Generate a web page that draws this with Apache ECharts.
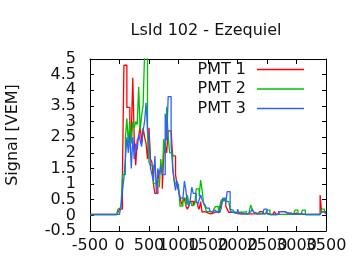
<!DOCTYPE html>
<html>
<head>
<meta charset="utf-8">
<script src="https://cdn.jsdelivr.net/npm/echarts@6/dist/echarts.min.js"></script>
<style>html,body{margin:0;padding:0;background:#fff}#c{width:360px;height:270px}</style>
</head>
<body>
<div id="c"></div>
<script>
// Histogram bins: start time (ns) and width (ns)
var binStart = -500;
var binWidth = 25;
var xTicks = [-500, 0, 500, 1000, 1500, 2000, 2500, 3000, 3500];
var yTicks = [-0.5, 0, 0.5, 1, 1.5, 2, 2.5, 3, 3.5, 4, 4.5, 5];
var seriesNames = ['PMT 1', 'PMT 2', 'PMT 3'];

var pmt1 = [
0.03,0.03,0.03,0.03,0.03,0.03,0.03,0.03,0.03,0.03,
0.03,0.03,0.03,0.03,0.03,0.03,0.03,0.03,0.05,0.1,
0.2,0.2,1.3,4.8,4.8,3.45,3.45,2.4,2.6,4.4,
2.4,1.6,2.4,2.5,2.9,2.3,2.8,2.5,2.3,1.8,
2.8,1.8,1.7,1.0,0.7,0.7,1.1,1.4,1.4,0.85,
1.9,2.25,2.0,2.7,2.7,2.7,1.9,1.9,1.3,0.97,
0.8,0.6,0.35,0.45,0.55,0.3,0.2,0.3,0.45,0.45,
0.3,0.45,0.4,0.3,0.2,0.44,0.1,0.12,0.1,0.08,
0.1,0.05,0.1,0.08,0.1,0.12,0.1,0.1,0.2,0.35,
0.5,0.5,0.3,0.2,0.1,0.1,0.08,0.1,0.05,0.06,
0.1,0.05,0.07,0.05,0.04,0.05,0.03,0.05,0.04,0.05,
0.08,0.05,0.05,0.05,0.05,0.12,0.12,0.08,0.05,0.07,
0.03,0.03,0.03,0.03,0.03,0.12,0.05,0.03,0.12,0.12,
0.12,0.12,0.07,0.07,0.07,0.07,0.05,0.05,0.05,0.07,
0.07,0.03,0.03,0.03,0.03,0.03,0.03,0.03,0.03,0.03,
0.03,0.03,0.03,0.03,0.03,0.03,0.65,0.12,0.1,0.05
];
var pmt2 = [
0.02,0.02,0.02,0.02,0.02,0.02,0.02,0.02,0.02,0.02,
0.02,0.02,0.02,0.02,0.02,0.02,0.02,0.02,0.05,0.2,
0.25,0.2,1.3,1.3,2.5,3.1,2.3,3.0,2.3,3.0,
2.8,3.0,2.9,4.1,2.7,3.2,3.5,5.2,5.2,2.6,
1.7,1.6,1.6,1.0,1.05,1.1,1.1,0.9,1.8,1.3,
2.45,2.0,3.47,2.5,2.0,2.0,1.5,1.15,1.0,1.0,
0.95,0.3,0.3,0.55,0.55,0.3,0.65,0.4,0.4,0.3,
0.35,0.4,0.85,0.85,0.6,1.13,0.81,0.38,0.28,0.12,
0.12,0.12,0.1,0.12,0.2,0.28,0.28,0.07,0.3,0.5,
0.45,0.55,0.45,0.45,0.4,0.2,0.17,0.17,0.07,0.07,
0.12,0.1,0.07,0.1,0.07,0.12,0.05,0.05,0.15,0.33,
0.17,0.1,0.08,0.05,0.07,0.05,0.05,0.03,0.05,0.05,
0.17,0.17,0.02,0.02,0.02,0.02,0.03,0.03,0.03,0.03,
0.03,0.03,0.03,0.03,0.03,0.03,0.03,0.03,0.03,0.17,
0.17,0.03,0.03,0.03,0.17,0.17,0.02,0.02,0.02,0.02,
0.02,0.02,0.02,0.02,0.02,0.02,0.03,0.2,0.2,0.1
];
var pmt3 = [
0.03,0.03,0.03,0.03,0.03,0.03,0.03,0.03,0.03,0.03,
0.03,0.03,0.03,0.03,0.03,0.03,0.03,0.03,0.03,0.03,
0.05,0.3,0.8,1.2,1.8,2.5,2.0,2.6,1.5,2.5,
1.8,2.3,2.1,2.6,2.4,2.2,2.7,3.0,3.6,2.7,
2.6,1.5,1.3,1.1,1.9,0.7,1.5,1.3,1.6,1.3,
1.3,3.25,2.4,3.8,3.8,2.2,1.6,1.1,0.8,1.1,
0.8,0.55,0.55,0.55,1.1,0.8,0.4,0.3,0.5,0.9,
0.7,0.7,0.45,0.35,0.5,0.65,0.5,0.4,0.33,0.23,
0.23,0.15,0.1,0.15,0.17,0.2,0.1,0.1,0.07,0.23,
0.55,0.55,0.38,0.76,0.76,0.17,0.1,0.1,0.07,0.1,
0.2,0.07,0.05,0.1,0.05,0.04,0.05,0.1,0.12,0.17,
0.2,0.1,0.05,0.1,0.04,0.05,0.05,0.05,0.2,0.2,
0.05,0.03,0.03,0.03,0.03,0.03,0.03,0.03,0.12,0.12,
0.12,0.12,0.07,0.07,0.07,0.07,0.03,0.03,0.03,0.03,
0.03,0.05,0.05,0.05,0.03,0.03,0.03,0.03,0.03,0.03,
0.03,0.03,0.03,0.03,0.03,0.03,0.03,0.1,0.12,0.12
];

function toSteps(vals) {
  var out = [];
  for (var i = 0; i < vals.length; i++) out.push([binStart + i * binWidth, vals[i]]);
  out.push([binStart + vals.length * binWidth, vals[vals.length - 1]]);
  return out;
}

var FONT = 'DejaVu Sans';
var FS = 16;
var colors = ['#ff0000', '#00c000', '#3060ff'];
var chart = echarts.init(document.getElementById('c'), null, {renderer: 'canvas'});

// Labels split over two overlaid axes (alternate ticks) so that crowded labels all stay visible
function altFormatter(list, parity) {
  return function (v) {
    var idx = list.indexOf(+v.toFixed(6));
    return (idx % 2 === parity) ? String(v) : '';
  };
}
function xAxisDef(pos, showLine, tickShow, label) {
  return {
    type: 'value', min: xTicks[0], max: xTicks[xTicks.length - 1], interval: 500, position: pos,
    axisLine: {show: showLine, onZero: false, lineStyle: {color: '#000', width: 1}},
    splitLine: {show: false},
    axisTick: {show: tickShow, inside: true, length: 5, lineStyle: {color: '#000'}},
    axisLabel: label ? Object.assign({fontFamily: FONT, fontSize: FS, color: '#111', margin: 7,
      showMinLabel: true, showMaxLabel: true, hideOverlap: false}, label) : {show: false}
  };
}
function yAxisDef(pos, showLine, tickShow, label) {
  return {
    type: 'value', min: yTicks[0], max: yTicks[yTicks.length - 1], interval: 0.5, position: pos,
    axisLine: {show: showLine, onZero: false, lineStyle: {color: '#000', width: 1}},
    splitLine: {show: false},
    axisTick: {show: tickShow, inside: true, length: 4, lineStyle: {color: '#000'}},
    axisLabel: label ? Object.assign({fontFamily: FONT, fontSize: FS, color: '#111', margin: 14,
      showMinLabel: true, showMaxLabel: true, hideOverlap: false}, label) : {show: false}
  };
}

chart.setOption({
  animation: false,
  backgroundColor: '#fff',
  title: {
    text: 'LsId 102 - Ezequiel',
    left: 201, top: 18, textAlign: 'center',
    textStyle: {fontFamily: FONT, fontSize: FS, fontWeight: 'normal', color: '#111'}
  },
  graphic: [{
    type: 'text', x: 13, y: 135, rotation: Math.PI / 2,
    style: {text: 'Signal [VEM]', fontFamily: FONT, fontSize: FS, fill: '#111', align: 'center', verticalAlign: 'middle'}
  }],
  legend: {
    data: seriesNames, orient: 'vertical', right: 51, top: 56, align: 'right',
    icon: 'rect', itemWidth: 47, itemHeight: 1.5, itemGap: 2.5,
    textStyle: {fontFamily: FONT, fontSize: FS, lineHeight: 17, color: '#111', padding: [0, 6, 0, 0]}
  },
  grid: {left: 90, right: 34, top: 59, bottom: 39},
  xAxis: [
    xAxisDef('bottom', true, true, {formatter: altFormatter(xTicks, 0)}),
    xAxisDef('bottom', false, false, {formatter: altFormatter(xTicks, 1)}),
    xAxisDef('top', true, true, null)
  ],
  yAxis: [
    yAxisDef('left', true, true, {formatter: altFormatter(yTicks, 0)}),
    yAxisDef('left', false, false, {formatter: altFormatter(yTicks, 1)}),
    yAxisDef('right', true, true, null)
  ],
  series: [pmt1, pmt2, pmt3].map(function (vals, k) {
    return {
      name: seriesNames[k], type: 'line', step: 'end', data: toSteps(vals),
      xAxisIndex: 0, yAxisIndex: 0,
      symbol: 'none', clip: true, color: colors[k],
      lineStyle: {color: colors[k], width: 1.3}, z: 2 + k
    };
  })
});
</script>
</body>
</html>
